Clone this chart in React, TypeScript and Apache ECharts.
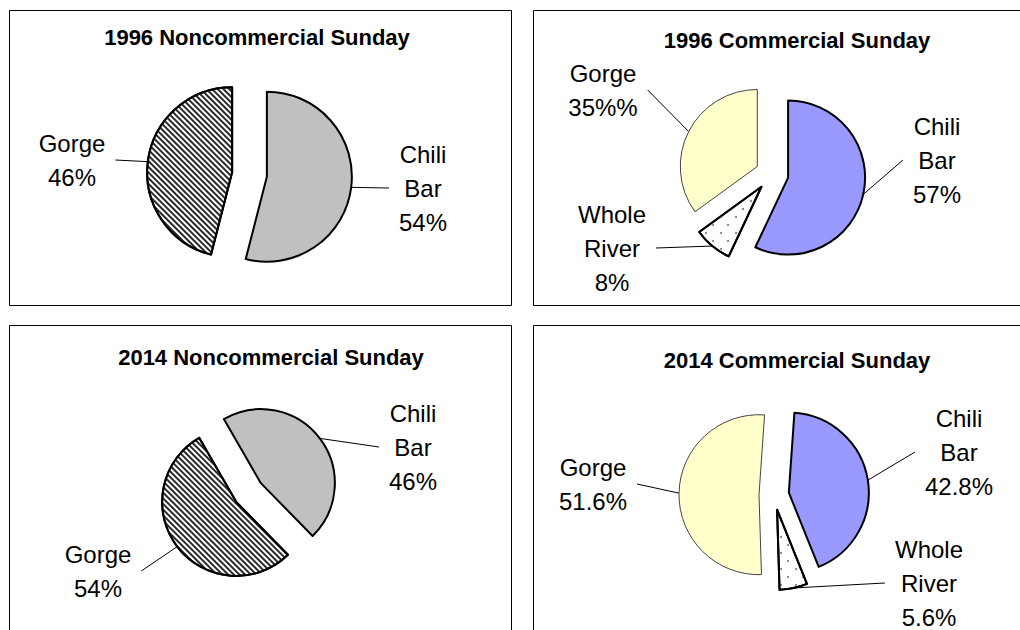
import { useEffect, useRef } from "react";
import * as echarts from "echarts";

const FONT = "'Liberation Sans', Arial, Helvetica, sans-serif";

const chartTitles = [
  "1996 Noncommercial Sunday",
  "1996 Commercial Sunday",
  "2014 Noncommercial Sunday",
  "2014 Commercial Sunday",
];

const nc1996Names = ["Chili\nBar", "Gorge"];
const nc1996Values = [54, 46];
const nc1996Labels = ["54%", "46%"];

const c1996Names = ["Chili\nBar", "Whole\nRiver", "Gorge"];
const c1996Values = [57, 8, 35];
const c1996Labels = ["57%", "8%", "35%%"];

const nc2014Names = ["Chili\nBar", "Gorge"];
const nc2014Values = [46, 54];
const nc2014Labels = ["46%", "54%"];

const c2014Names = ["Chili\nBar", "Whole\nRiver", "Gorge"];
const c2014Values = [42.8, 5.6, 51.6];
const c2014Labels = ["42.8%", "5.6%", "51.6%"];

const chiliGray = { color: "#c0c0c0", borderColor: "#000", borderWidth: 2 };
const chiliBlue = { color: "#9999ff", borderColor: "#000", borderWidth: 2 };
const gorgeYellow = { color: "#ffffcc", borderColor: "#444", borderWidth: 1 };
const gorgeHatch = {
  color: "#ffffff",
  borderColor: "#000",
  borderWidth: 2,
  decal: {
    symbol: "rect",
    symbolSize: 1,
    color: "#2a2a2a",
    dashArrayX: [1, 0],
    dashArrayY: [1.6, 1.6],
    rotation: Math.PI / 4,
  },
};
const riverDots = {
  color: "#ffffff",
  borderColor: "#000",
  borderWidth: 2,
  decal: {
    symbol: "circle",
    symbolSize: 1,
    color: "#777",
    dashArrayX: [
      [2, 13],
      [0, 7, 2, 6],
    ],
    dashArrayY: [2, 6],
    rotation: 0,
  },
};

const hiddenStyle = { color: "rgba(0,0,0,0)", borderWidth: 0, borderColor: "rgba(0,0,0,0)" };

type PieCfg = {
  center: number[];
  radius: number;
  startAngle: number;
  offset: number;
  labelPos: number[][];
};

// One pie series per slice: every series holds the full data, only its own slice
// is visible, and its centre is pushed out along the slice's mid-angle (explosion).
function buildPie(
  names: string[],
  values: number[],
  valueLabels: string[],
  styles: any[],
  cfg: PieCfg
) {
  const total = values.reduce((a, b) => a + b, 0);
  const theta0 = 90 - cfg.startAngle;
  let cum = 0;
  return values.map((v, k) => {
    const mid = ((theta0 + (360 * (cum + v / 2)) / total) * Math.PI) / 180;
    cum += v;
    const center = [
      cfg.center[0] + cfg.offset * Math.sin(mid),
      cfg.center[1] - cfg.offset * Math.cos(mid),
    ];
    return {
      type: "pie",
      silent: true,
      center,
      radius: cfg.radius,
      startAngle: cfg.startAngle,
      clockwise: true,
      avoidLabelOverlap: false,
      emphasis: { disabled: true },
      data: names.map((n, i) =>
        i === k
          ? {
              name: n,
              value: values[i],
              itemStyle: styles[i],
              label: { show: true },
              labelLine: { show: true },
            }
          : {
              name: n,
              value: values[i],
              itemStyle: hiddenStyle,
              label: { show: false },
              labelLine: { show: false },
            }
      ),
      label: {
        position: "outside",
        formatter: (p: any) => `${p.name}\n${valueLabels[p.dataIndex]}`,
        fontFamily: FONT,
        fontSize: 24,
        lineHeight: 34,
        color: "#000",
        align: "center",
        padding: [0, 10],
      },
      labelLine: {
        length: 10,
        length2: 0,
        smooth: false,
        lineStyle: { color: "#000", width: 1 },
      },
      labelLayout: (params: any) => {
        const p = cfg.labelPos[params.dataIndex];
        return { x: p[0], y: p[1], align: "center", verticalAlign: "middle" };
      },
    };
  });
}

const titleStyle = { fontSize: 22, fontWeight: "bold", fontFamily: FONT, color: "#000" };

const frame = (x: number, y: number, w: number, h: number) => ({
  type: "rect",
  shape: { x, y, width: w, height: h },
  style: { fill: "none", stroke: "#000", lineWidth: 1 },
  z: -1,
  silent: true,
});

const option: any = {
  animation: false,
  backgroundColor: "#ffffff",
  title: [
    { text: chartTitles[0], left: 257, top: 26, textAlign: "center", padding: 0, textStyle: titleStyle },
    { text: chartTitles[1], left: 797, top: 29, textAlign: "center", padding: 0, textStyle: titleStyle },
    { text: chartTitles[2], left: 271, top: 346, textAlign: "center", padding: 0, textStyle: titleStyle },
    { text: chartTitles[3], left: 797, top: 349, textAlign: "center", padding: 0, textStyle: titleStyle },
  ],
  graphic: [
    frame(9.5, 10.5, 502, 295),
    frame(533.5, 10.5, 540, 295),
    frame(9.5, 325.5, 502, 340),
    frame(533.5, 325.5, 540, 340),
  ],
  series: [
    ...buildPie(nc1996Names, nc1996Values, nc1996Labels, [chiliGray, gorgeHatch], {
      center: [249.5, 174.5],
      radius: 85,
      startAngle: 90,
      offset: 17.5,
      labelPos: [
        [423, 188],
        [72, 160],
      ],
    }),
    ...buildPie(c1996Names, c1996Values, c1996Labels, [chiliBlue, riverDots, gorgeYellow], {
      center: [772, 174],
      radius: 77,
      startAngle: 90,
      offset: 16.5,
      labelPos: [
        [937, 160],
        [612, 248],
        [603, 90],
      ],
    }),
    ...buildPie(nc2014Names, nc2014Values, nc2014Labels, [chiliGray, gorgeHatch], {
      center: [248.5, 492.5],
      radius: 74,
      startAngle: 120,
      offset: 15.5,
      labelPos: [
        [413, 447],
        [98, 571],
      ],
    }),
    ...buildPie(c2014Names, c2014Values, c2014Labels, [chiliBlue, riverDots, gorgeYellow], {
      center: [774, 495],
      radius: 80,
      startAngle: 86,
      offset: 15,
      labelPos: [
        [959, 452],
        [929, 583],
        [593, 484],
      ],
    }),
  ],
};

export default function App() {
  const ref = useRef<HTMLDivElement>(null);
  useEffect(() => {
    if (!ref.current) return;
    const chart = echarts.init(ref.current, null, { renderer: "svg" });
    chart.setOption(option);
    return () => chart.dispose();
  }, []);
  return (
    <div
      ref={ref}
      style={{ position: "fixed", left: 0, top: 0, width: 1020, height: 630, background: "#fff" }}
    />
  );
}
